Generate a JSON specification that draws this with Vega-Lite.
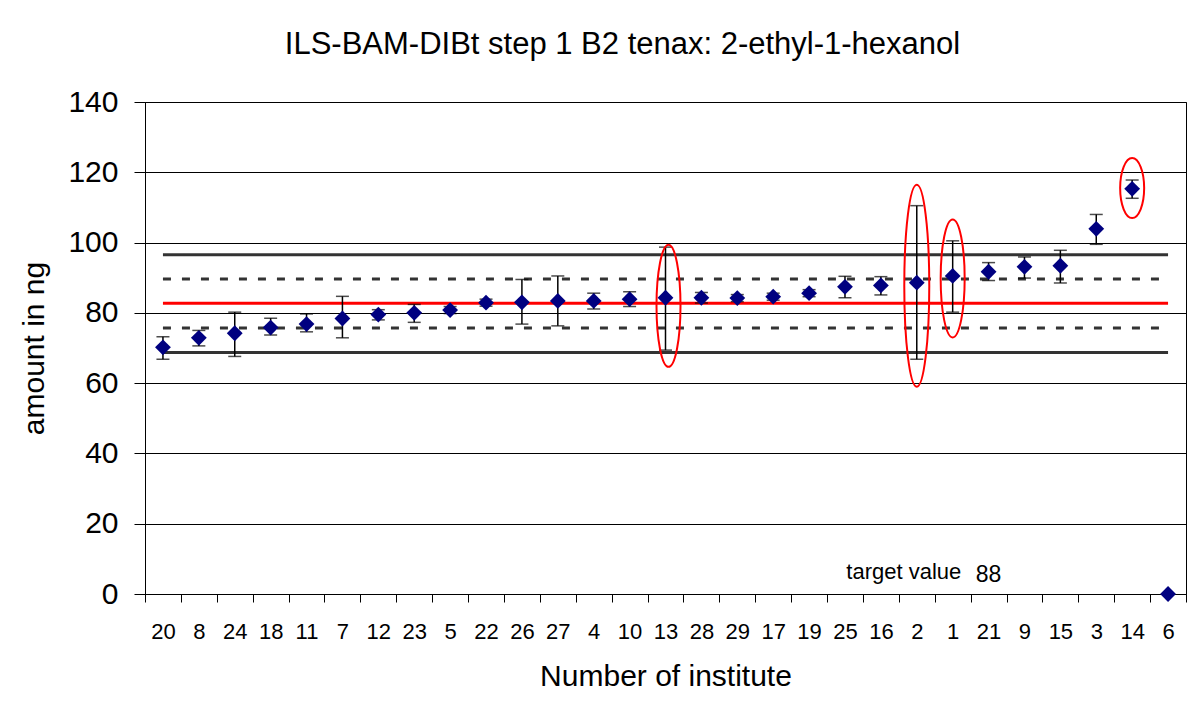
{
  "$schema": "https://vega.github.io/schema/vega-lite/v6.json",
  "width": 1041,
  "height": 492,
  "autosize": {"type": "none"},
  "padding": {"left": 145, "top": 102, "right": 10, "bottom": 108},
  "background": "white",
  "title": {"text": "ILS-BAM-DIBt step 1 B2 tenax: 2-ethyl-1-hexanol", "font": "Liberation Sans", "fontSize": 31, "fontWeight": "normal", "color": "black", "anchor": "middle", "dx": -43, "offset": 26},
  "config": {
    "view": {"stroke": "black", "strokeWidth": 1},
    "font": "Liberation Sans"
  },
  "datasets": {
    "results": [
      {"institute": "20", "amount": 70.2, "low": 66.8, "high": 73.2},
      {"institute": "8", "amount": 72.9, "low": 70.6, "high": 75.0},
      {"institute": "24", "amount": 74.2, "low": 67.6, "high": 80.2},
      {"institute": "18", "amount": 75.8, "low": 73.7, "high": 78.5},
      {"institute": "11", "amount": 76.8, "low": 74.6, "high": 79.7},
      {"institute": "7", "amount": 78.4, "low": 72.9, "high": 84.7},
      {"institute": "12", "amount": 79.5, "low": 78.0, "high": 80.9},
      {"institute": "23", "amount": 80.0, "low": 77.3, "high": 82.4},
      {"institute": "5", "amount": 80.8, "low": 79.8, "high": 81.8},
      {"institute": "22", "amount": 82.9, "low": 81.9, "high": 83.9},
      {"institute": "26", "amount": 83.0, "low": 76.8, "high": 89.5},
      {"institute": "27", "amount": 83.4, "low": 76.3, "high": 90.5},
      {"institute": "4", "amount": 83.4, "low": 81.1, "high": 85.6},
      {"institute": "10", "amount": 83.9, "low": 81.8, "high": 86.0},
      {"institute": "13", "amount": 84.3, "low": 69.4, "high": 98.7},
      {"institute": "28", "amount": 84.3, "low": 82.8, "high": 85.8},
      {"institute": "29", "amount": 84.2, "low": 83.2, "high": 85.2},
      {"institute": "17", "amount": 84.6, "low": 83.6, "high": 85.6},
      {"institute": "19", "amount": 85.6, "low": 84.6, "high": 86.6},
      {"institute": "25", "amount": 87.4, "low": 84.3, "high": 90.4},
      {"institute": "16", "amount": 87.8, "low": 85.1, "high": 90.3},
      {"institute": "2", "amount": 88.6, "low": 66.8, "high": 110.5},
      {"institute": "1", "amount": 90.5, "low": 80.2, "high": 100.5},
      {"institute": "21", "amount": 91.7, "low": 89.2, "high": 94.3},
      {"institute": "9", "amount": 93.1, "low": 89.9, "high": 95.9},
      {"institute": "15", "amount": 93.4, "low": 88.5, "high": 97.8},
      {"institute": "3", "amount": 103.9, "low": 99.5, "high": 108.0},
      {"institute": "14", "amount": 115.3, "low": 112.6, "high": 117.8},
      {"institute": "6", "amount": 0}
    ],
    "limits": [
      {"kind": "outer", "value": 96.5, "from": "20", "to": "6"},
      {"kind": "outer", "value": 68.7, "from": "20", "to": "6"},
      {"kind": "inner", "value": 89.6, "from": "20", "to": "6"},
      {"kind": "inner", "value": 75.7, "from": "20", "to": "6"},
      {"kind": "mean", "value": 82.7, "from": "20", "to": "6"}
    ],
    "rings": [
      {"institute": "13", "centre": 82.0},
      {"institute": "2", "centre": 87.7},
      {"institute": "1", "centre": 89.8},
      {"institute": "14", "centre": 115.5}
    ],
    "notes": [
      {"institute": "2", "amount": 4.3, "label": "target value", "part": "a"},
      {"institute": "21", "amount": 3.5, "label": "88", "part": "b"}
    ]
  },
  "encoding": {
    "x": {
      "field": "institute", "type": "nominal",
      "scale": {"type": "band", "paddingInner": 0, "paddingOuter": 0,
        "domain": ["20","8","24","18","11","7","12","23","5","22","26","27","4","10","13","28","29","17","19","25","16","2","1","21","9","15","3","14","6"]},
      "axis": {"title": "Number of institute", "titleFont": "Liberation Sans", "titleFontSize": 30, "titleFontWeight": "normal", "titleColor": "black", "titlePadding": 19,
        "labelFont": "Liberation Sans", "labelFontSize": 22, "labelColor": "black", "labelAngle": 0, "labelPadding": 19,
        "tickBand": "extent", "tickSize": 8, "tickColor": "black", "domainColor": "black", "grid": false}
    }
  },
  "layer": [
    {
      "data": {"name": "limits"},
      "mark": {"type": "rule", "strokeWidth": 3},
      "encoding": {
        "x": {"field": "from", "type": "nominal"},
        "x2": {"field": "to"},
        "y": {"field": "value", "type": "quantitative",
          "scale": {"domain": [0, 140], "nice": false},
          "axis": {"title": "amount in ng", "titleFont": "Liberation Sans", "titleFontSize": 30, "titleFontWeight": "normal", "titleColor": "black", "titlePadding": 18,
            "values": [0, 20, 40, 60, 80, 100, 120, 140],
            "labelFont": "Liberation Sans", "labelFontSize": 30, "labelColor": "black", "labelPadding": 16,
            "tickSize": 11, "tickColor": "black", "domainColor": "black",
            "grid": true, "gridColor": "black", "gridWidth": 1, "gridOpacity": 1}},
        "color": {"field": "kind", "type": "nominal", "legend": null,
          "scale": {"domain": ["outer", "inner", "mean"], "range": ["#333333", "#333333", "#ff0000"]}},
        "strokeDash": {"field": "kind", "type": "nominal", "legend": null,
          "scale": {"domain": ["outer", "inner", "mean"], "range": [[1, 0], [8, 11], [1, 0]]}}
      }
    },
    {
      "data": {"name": "results"},
      "mark": {"type": "rule", "color": "black", "strokeWidth": 1.5},
      "encoding": {
        "y": {"field": "low", "type": "quantitative"},
        "y2": {"field": "high"}
      }
    },
    {
      "data": {"name": "results"},
      "mark": {"type": "tick", "color": "black", "thickness": 1.5, "size": 13, "orient": "horizontal"},
      "encoding": {"y": {"field": "low", "type": "quantitative"}}
    },
    {
      "data": {"name": "results"},
      "mark": {"type": "tick", "color": "black", "thickness": 1.5, "size": 13, "orient": "horizontal"},
      "encoding": {"y": {"field": "high", "type": "quantitative"}}
    },
    {
      "data": {"name": "results"},
      "mark": {"type": "point", "shape": "diamond", "filled": true, "color": "#000080", "size": 250, "opacity": 1},
      "encoding": {"y": {"field": "amount", "type": "quantitative"}}
    },
    {
      "data": {"name": "rings"},
      "mark": {"type": "point", "filled": false, "color": "#ff0000", "strokeWidth": 2, "size": 40000, "opacity": 1},
      "encoding": {
        "y": {"field": "centre", "type": "quantitative"},
        "shape": {"field": "institute", "type": "nominal", "legend": null,
          "scale": {"domain": ["13", "2", "1", "14"],
            "range": [
              "M0.03,-0.61A0.12,0.61 0 1,1 0.03,0.61A0.12,0.61 0 1,1 0.03,-0.61Z",
              "M0,-1.01A0.125,1.01 0 1,1 0,1.01A0.125,1.01 0 1,1 0,-1.01Z",
              "M0,-0.59A0.12,0.59 0 1,1 0,0.59A0.12,0.59 0 1,1 0,-0.59Z",
              "M0,-0.3A0.12,0.3 0 1,1 0,0.3A0.12,0.3 0 1,1 0,-0.3Z"
            ]}}
      }
    },
    {
      "data": {"name": "notes"},
      "transform": [{"filter": "datum.part == 'a'"}],
      "mark": {"type": "text", "font": "Liberation Sans", "fontSize": 22, "color": "black", "baseline": "alphabetic", "align": "center", "dx": -13},
      "encoding": {"y": {"field": "amount", "type": "quantitative"}, "text": {"field": "label"}}
    },
    {
      "data": {"name": "notes"},
      "transform": [{"filter": "datum.part == 'b'"}],
      "mark": {"type": "text", "font": "Liberation Sans", "fontSize": 23, "color": "black", "baseline": "alphabetic", "align": "center"},
      "encoding": {"y": {"field": "amount", "type": "quantitative"}, "text": {"field": "label"}}
    }
  ]
}
